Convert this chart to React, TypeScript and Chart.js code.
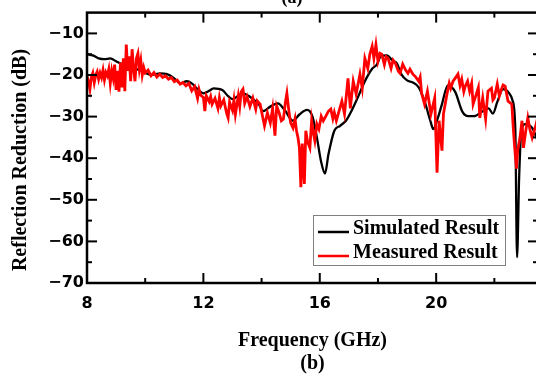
import React, { useEffect, useRef } from "react";
import { Chart, registerables } from "chart.js";

Chart.register(...registerables);

// ---- data ----
const simFreq = [
  8.0, 8.2, 8.4, 8.6, 8.8, 9.0, 9.2, 9.4, 9.65, 9.85, 10.05, 10.2, 10.35, 10.5, 10.75,
  11.0, 11.2, 11.43, 11.6, 11.8, 12.0, 12.2, 12.35, 12.65, 12.85, 13.0, 13.2, 13.35, 13.55,
  13.7, 13.9, 14.05, 14.3, 14.56, 14.8, 15.08, 15.3, 15.56, 15.75, 15.9, 16.05, 16.18, 16.3,
  16.5, 16.7, 16.9, 17.1, 17.3, 17.55, 17.8, 17.96, 18.1, 18.3, 18.5, 18.65, 18.8, 19.0, 19.2,
  19.4, 19.6, 19.8, 19.9, 20.05, 20.2, 20.4, 20.65, 20.9, 21.1, 21.3, 21.6, 21.8, 21.95, 22.1,
  22.3, 22.5, 22.62, 22.72, 22.78, 22.85, 22.92, 23.05, 23.3, 23.5,
];
const simulated = [
  -15.0, -15.3, -16.0, -16.2, -16.0, -16.7, -17.4, -17.8, -18.4, -19.0, -19.6, -20.0, -19.8,
  -19.6, -19.8, -20.8, -22.0, -21.5, -22.0, -23.4, -24.4, -23.8, -23.2, -23.6, -25.1, -25.8,
  -25.0, -24.4, -25.0, -25.8, -27.0, -28.7, -27.6, -26.8, -28.5, -31.0, -29.5, -28.4, -30.0,
  -35.0, -41.0, -43.7, -39.0, -33.4, -32.2, -31.0, -28.5, -25.5, -21.5, -18.5, -17.5, -15.5,
  -15.3, -16.5, -17.2, -19.8, -21.3, -21.8, -23.0, -26.3, -31.0, -33.0, -30.5, -27.0, -22.5,
  -24.0, -28.8, -29.9, -29.9, -28.7, -28.0, -29.3, -26.5, -23.4, -24.3, -26.0, -33.0, -63.8,
  -45.0, -34.0, -31.8, -32.7, -36.0,
];

const measFreq = [
  8.0, 8.05, 8.1, 8.15, 8.2, 8.25, 8.3, 8.35, 8.4, 8.45, 8.5, 8.55, 8.6, 8.65, 8.7, 8.75, 8.8,
  8.85, 8.9, 8.95, 9.0, 9.05, 9.1, 9.15, 9.2, 9.25, 9.3, 9.35, 9.4, 9.45, 9.5, 9.55, 9.6, 9.65,
  9.7, 9.75, 9.8, 9.85, 9.9, 9.95, 10.0, 10.1, 10.2, 10.3, 10.4, 10.5, 10.6, 10.7, 10.8, 10.9,
  11.0, 11.1, 11.2, 11.3, 11.4, 11.5, 11.6, 11.7, 11.8, 11.85, 11.9, 12.0, 12.05, 12.1, 12.2,
  12.25, 12.3, 12.4, 12.5, 12.55, 12.6, 12.7, 12.8, 12.85, 12.9, 13.0, 13.05, 13.1, 13.2,
  13.25, 13.3, 13.36, 13.42, 13.5, 13.6, 13.7, 13.8, 13.85, 13.95, 14.05, 14.1, 14.2, 14.3,
  14.38, 14.46, 14.52, 14.6, 14.68, 14.75, 14.82, 14.87, 14.95, 15.0, 15.08, 15.15, 15.2,
  15.25, 15.3, 15.35, 15.4, 15.47, 15.52, 15.58, 15.66, 15.72, 15.78, 15.83, 15.9, 15.97,
  16.05, 16.12, 16.2, 16.3, 16.38, 16.45, 16.5, 16.57, 16.65, 16.76, 16.85, 16.97, 17.05,
  17.15, 17.25, 17.38, 17.46, 17.55, 17.65, 17.72, 17.8, 17.86, 17.93, 18.0, 18.07, 18.13,
  18.22, 18.28, 18.35, 18.45, 18.52, 18.6, 18.7, 18.76, 18.85, 18.95, 19.03, 19.1, 19.2, 19.3,
  19.4, 19.45, 19.5, 19.6, 19.7, 19.82, 19.95, 20.03, 20.1, 20.2, 20.25, 20.37, 20.45, 20.5,
  20.58, 20.65, 20.75, 20.82, 20.88, 20.95, 21.0, 21.08, 21.15, 21.22, 21.27, 21.38, 21.45,
  21.5, 21.6, 21.7, 21.78, 21.9, 21.95, 22.0, 22.1, 22.17, 22.22, 22.3, 22.37, 22.47, 22.6,
  22.65, 22.7, 22.76, 22.8, 22.88, 22.95, 23.0, 23.08, 23.15, 23.22, 23.3, 23.43, 23.5,
];
const measured = [
  -20.3, -21.5, -23.4, -20.5, -19.5, -21.8, -20.0, -19.2, -21.0, -19.5, -20.6, -18.8, -21.2,
  -19.4, -20.2, -18.6, -22.0, -19.0, -20.8, -17.5, -23.6, -19.0, -24.0, -17.0, -23.0, -16.0,
  -23.9, -12.7, -19.0, -15.5, -21.5, -13.8, -18.5, -21.5, -16.0, -14.8, -18.6, -16.5, -20.0,
  -18.2, -19.5, -18.8, -20.2, -19.4, -20.5, -19.8, -20.6, -20.2, -21.0, -20.6, -21.6, -21.2,
  -22.2, -21.8, -22.6, -22.0, -23.8, -22.8, -25.6, -23.5, -24.8, -25.4, -28.7, -25.0, -26.4,
  -25.2, -27.0, -25.6, -28.0, -25.5, -27.4, -26.0, -29.2, -30.3, -26.5, -28.5, -26.0, -29.5,
  -25.0, -27.5, -24.0, -23.4, -26.8, -25.2, -27.6, -25.5, -28.2, -26.2, -27.0, -30.5, -32.2,
  -29.1, -31.5, -28.0, -34.6, -27.5, -29.0, -31.0, -30.6, -26.5, -24.4, -29.4, -31.5, -32.7,
  -30.5, -33.4, -35.0, -37.5, -47.0, -36.5, -46.2, -33.4, -36.0, -37.5, -31.0, -34.0, -35.8,
  -31.8, -33.0, -29.9, -31.0, -30.0, -28.7, -28.2, -30.5, -29.0, -31.0, -29.0, -26.3, -29.4,
  -20.8, -28.0, -21.5, -24.6, -19.8, -23.2, -16.0, -18.4, -15.0, -13.1, -16.0, -12.7, -16.7,
  -14.8, -15.0, -17.5, -15.6, -16.0, -18.4, -16.4, -17.2, -19.1, -19.6, -17.4, -18.8, -19.6,
  -18.6, -19.8, -20.5, -21.5, -20.5, -24.4, -27.0, -23.9, -29.4, -25.5, -43.5, -31.0, -38.2,
  -29.4, -24.6, -22.0, -23.2, -21.5, -20.8, -19.8, -22.5, -21.0, -24.0, -22.7, -21.5, -23.9,
  -22.0, -27.0, -24.6, -23.0, -30.3, -25.5, -30.6, -23.9, -23.2, -26.0, -25.5, -22.2, -25.0,
  -23.9, -22.4, -22.7, -26.3, -27.0, -32.7, -37.5, -42.5, -38.2, -35.1, -31.0, -37.5, -33.4,
  -30.3, -33.0, -35.1, -32.0, -30.0,
];

const seriesNames = ["Simulated Result", "Measured Result"];
const xTitle = "Frequency (GHz)";
const yTitle = "Reflection Reduction (dB)";
const caption = "(b)";
const topCaption = "(a)";

const sansBold = { family: "'DejaVu Sans', sans-serif", size: 16, weight: "bold" as const };
const SERIF = "'Liberation Serif', 'Times New Roman', serif";
const fmtTick = (v: any) => String(v).replace("-", "\u2212");

const decorPlugin = {
  id: "decor",
  afterDraw(chart: any) {
    const { ctx, chartArea: a, scales } = chart;
    const xs = scales.x;
    const ys = scales.y;
    ctx.save();
    ctx.strokeStyle = "#000";
    ctx.lineWidth = 2.5;
    ctx.strokeRect(a.left, a.top, a.right - a.left, a.bottom - a.top);

    ctx.lineWidth = 2;
    const xMaj = xs.ticks.map((t: any) => t.value);
    const xMin: number[] = [];
    xMaj.forEach((v: number) => {
      const step = xMaj.length > 1 ? xMaj[1] - xMaj[0] : 4;
      const m = v + step / 2;
      if (m < xs.max) xMin.push(m);
    });
    const yMaj = ys.ticks.map((t: any) => t.value);
    const yMin: number[] = [];
    yMaj.forEach((v: number) => {
      const step = yMaj.length > 1 ? yMaj[1] - yMaj[0] : 10;
      const m = v + step / 2;
      if (m < ys.max) yMin.push(m);
    });
    const line = (x1: number, y1: number, x2: number, y2: number) => {
      ctx.beginPath();
      ctx.moveTo(x1, y1);
      ctx.lineTo(x2, y2);
      ctx.stroke();
    };
    xMaj.forEach((v: number) => {
      const p = xs.getPixelForValue(v);
      if (p <= a.left + 1) return;
      line(p, a.bottom, p, a.bottom - 10);
      line(p, a.top, p, a.top + 10);
    });
    xMin.forEach((v: number) => {
      const p = xs.getPixelForValue(v);
      line(p, a.bottom, p, a.bottom - 5);
      line(p, a.top, p, a.top + 5);
    });
    yMaj.forEach((v: number) => {
      const p = ys.getPixelForValue(v);
      if (p >= a.bottom - 1) return;
      line(a.left, p, a.left + 10, p);
      line(a.right, p, a.right - 10, p);
    });
    yMin.forEach((v: number) => {
      const p = ys.getPixelForValue(v);
      line(a.left, p, a.left + 5, p);
      line(a.right, p, a.right - 5, p);
    });

    // legend box
    const lx = 313, ly = 215, lw = 192, lh = 50;
    ctx.fillStyle = "#fff";
    ctx.fillRect(lx, ly, lw, lh);
    ctx.strokeStyle = "#808080";
    ctx.lineWidth = 1;
    ctx.strokeRect(lx + 0.5, ly + 0.5, lw, lh);
    ctx.font = `bold 20px ${SERIF}`;
    ctx.textBaseline = "alphabetic";
    ctx.textAlign = "left";
    chart.data.datasets
      .slice()
      .sort((p: any, q: any) => p.legendRank - q.legendRank)
      .forEach((ds: any, i: number) => {
        const yy = 232 + i * 24;
        ctx.strokeStyle = ds.borderColor;
        ctx.lineWidth = 2.5;
        line(318, yy, 349, yy);
        ctx.fillStyle = "#000";
        ctx.fillText(ds.label, 353, yy + 2);
      });

    // titles
    ctx.fillStyle = "#000";
    ctx.textAlign = "center";
    ctx.font = `bold 20px ${SERIF}`;
    ctx.fillText(xTitle, (a.left + a.right) / 2, 346);
    ctx.fillText(caption, (a.left + a.right) / 2, 369);
    ctx.font = `bold 18px ${SERIF}`;
    ctx.fillText(topCaption, 292, 3);
    ctx.save();
    ctx.translate(26, 160);
    ctx.rotate(-Math.PI / 2);
    ctx.font = `bold 20px ${SERIF}`;
    ctx.fillText(yTitle, 0, 0);
    ctx.restore();
    ctx.restore();
  },
};

export default function App() {
  const ref = useRef<HTMLCanvasElement>(null);
  useEffect(() => {
    const chart = new Chart(ref.current as HTMLCanvasElement, {
      type: "line",
      data: {
        datasets: [
          {
            label: seriesNames[0],
            legendRank: 0,
            data: simFreq.map((f, i) => ({ x: f, y: simulated[i] })),
            borderColor: "#000000",
            borderWidth: 2.3,
            pointRadius: 0,
            cubicInterpolationMode: "monotone",
            order: 1,
          } as any,
          {
            label: seriesNames[1],
            legendRank: 1,
            data: measFreq.map((f, i) => ({ x: f, y: measured[i] })),
            borderColor: "#ff0000",
            borderWidth: 2.8,
            pointRadius: 0,
            tension: 0,
            order: 0,
          } as any,
        ],
      },
      options: {
        animation: false,
        responsive: false,
        maintainAspectRatio: false,
        layout: { padding: { left: 0, right: 7, top: 12, bottom: 0 } },
        plugins: { legend: { display: false }, tooltip: { enabled: false } },
        scales: {
          x: {
            type: "linear",
            min: 8,
            max: 23.5,
            ticks: {
              stepSize: 4,
              includeBounds: false,
              padding: 11,
              color: "#000",
              font: sansBold,
              maxRotation: 0,
              callback: fmtTick,
            },
            grid: { display: false, drawTicks: false },
            border: { display: false },
            afterFit: (s: any) => {
              s.height = 92;
            },
          },
          y: {
            type: "linear",
            min: -70,
            max: -5,
            ticks: {
              stepSize: 10,
              includeBounds: false,
              padding: 3,
              color: "#000",
              font: sansBold,
              callback: fmtTick,
            },
            grid: { display: false, drawTicks: false },
            border: { display: false },
            afterFit: (s: any) => {
              s.width = 87;
            },
          },
        },
      },
      plugins: [decorPlugin],
    } as any);
    return () => chart.destroy();
  }, []);
  return (
    <div
      style={{
        position: "fixed",
        left: 0,
        top: 0,
        width: 536,
        height: 375,
        overflow: "hidden",
        background: "#fff",
      }}
    >
      <canvas ref={ref} width={545} height={375} style={{ display: "block", width: 545, height: 375 }} />
    </div>
  );
}
